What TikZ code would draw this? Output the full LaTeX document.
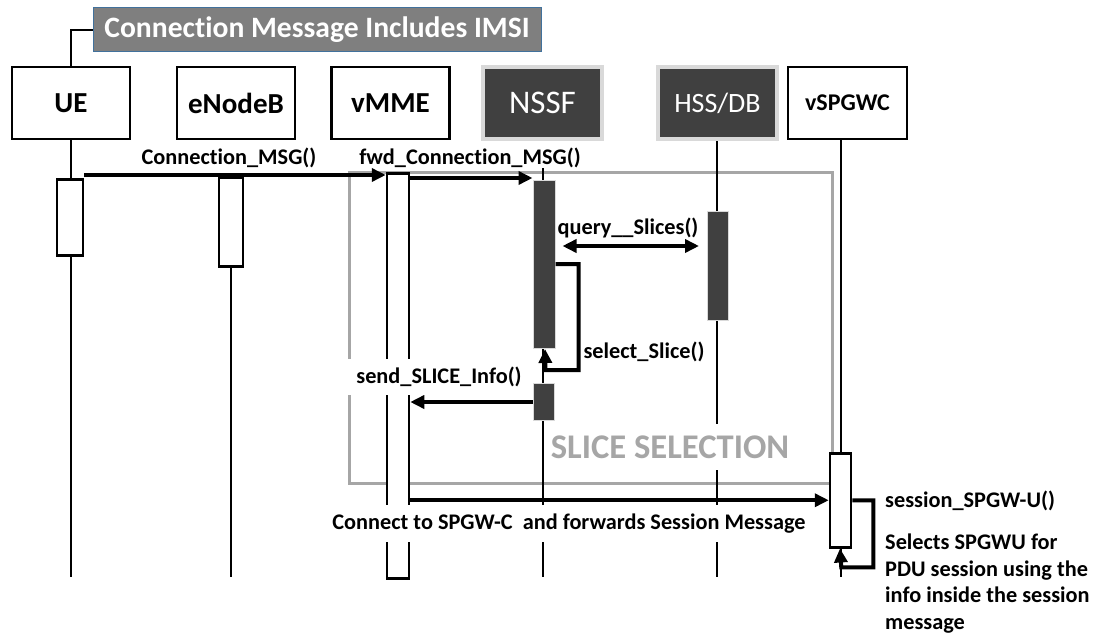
\documentclass[tikz,border=0pt]{standalone}
\usepackage{fontspec}
\setmainfont{Carlito}[Ligatures={NoCommon,NoRare}]
\usetikzlibrary{arrows.meta,backgrounds}
\definecolor{boxdark}{HTML}{404040}
\definecolor{boxrim}{HTML}{D9D9D9}
\definecolor{framegrey}{HTML}{A6A6A6}
\definecolor{titlefill}{HTML}{7F7F7F}
\definecolor{titlerim}{HTML}{41719C}
\begin{document}
\begin{tikzpicture}[x=1pt,y=-1pt,
  hdr/.style={draw=black, line width=2.5pt, fill=white, inner sep=0pt, minimum height=72pt,
    font=\bfseries\fontsize{29}{34}\selectfont},
  hdrdark/.style={draw=boxrim, line width=4pt, fill=boxdark, text=white, inner sep=0pt, minimum height=72pt},
  life/.style={line width=1.8pt},
  actw/.style={draw=black, line width=2.5pt, fill=white, inner sep=0pt, anchor=north},
  actd/.style={draw=boxrim, line width=1pt, fill=boxdark, inner sep=0pt, anchor=north},
  msg/.style={line width=4pt, -{Triangle[length=14pt,width=13pt]}},
  lbl/.style={font=\bfseries\fontsize{22.3}{26.5}\selectfont, inner sep=1pt},
]
\useasboundingbox (0,0) rectangle (1093,634);

% title banner and its tie to the UE box
\node[fill=titlefill, draw=titlerim, line width=1pt, text=white, minimum width=448pt,
      minimum height=44pt, inner sep=0pt, font=\bfseries\fontsize{29.6}{34}\selectfont]
      (title) at (317,30) {Connection Message Includes IMSI};

% participants
\node[hdr, minimum width=118pt] (ue) at (71,103) {UE};
\node[hdr, minimum width=118pt] (enb) at (236,103) {eNodeB};
\node[hdr, minimum width=118pt] (mme) at (390.5,103) {vMME};
\node[hdrdark, minimum width=119pt, font=\fontsize{33}{38}\selectfont] (nssf) at (542.5,103) {NSSF};
\node[hdrdark, minimum width=119pt, font=\fontsize{28}{32}\selectfont] (hss) at (717.5,103) {HSS/DB};
\node[hdr, minimum width=119pt, font=\bfseries\fontsize{24}{28}\selectfont] (spgw) at (847.5,103) {vSPGWC};

\draw[line width=1.5pt] (title.west) -| (ue.north);

% lifeline end points
\coordinate (ueEnd) at (71,577);
\coordinate (enbEnd) at (231,577);
\coordinate (nssfTop) at (543,168);
\coordinate (nssfEnd) at (543,577);
\coordinate (hssEnd) at (717,577);
\coordinate (spgwEnd) at (841,577);

% activation bars
\node[actw, minimum width=26pt, minimum height=76pt] (ueA) at (70,178) {};
\node[actw, minimum width=24pt, minimum height=89pt] (enbA) at (231,176) {};
\node[actw, minimum width=22pt, minimum height=405pt] (mmeA) at (398,172) {};
\node[actd, minimum width=22pt, minimum height=168pt] (nssfA) at (544,180) {};
\node[actd, minimum width=21pt, minimum height=37pt] (nssfB) at (544,383) {};
\node[actd, minimum width=21pt, minimum height=109pt] (hssA) at (718,211) {};
\node[actw, minimum width=21pt, minimum height=94pt] (spgwA) at (840.5,452) {};

% slice-selection frame and lifelines behind the bars
\begin{scope}[on background layer]
  \node[draw=framegrey, line width=3pt, minimum width=483pt, minimum height=311pt,
        anchor=north west, inner sep=0pt] (sel) at (348,171) {};
  \draw[life] (ue.south) -- (ueEnd);
  \draw[life] (enbA.south) -- (enbEnd);
  \draw[life] (nssfTop) -- (nssfEnd);
  \draw[life] (hss.south -| hssEnd) -- (hssEnd);
  \draw[life] (spgw.south -| spgwEnd) -- (spgwEnd);
\end{scope}

% messages
\draw[msg] ([yshift=3pt]ueA.north east) -- ([yshift=3pt]ueA.north east -| mmeA.west);
\draw[msg] ([yshift=2pt]mmeA.east |- nssfA.north) -- ([yshift=2pt]nssfA.north west);
\draw[line width=4pt, {Triangle[length=14pt,width=13pt]}-{Triangle[length=14pt,width=13pt]}]
  ([xshift=7pt,yshift=-66pt]nssfA.north east) -- ([xshift=-8pt,yshift=-66pt]nssfA.north east -| hssA.west);
\draw[msg] ([yshift=-84pt]nssfA.north east) -- ++(23,0) -- ++(0,106) -- ++(-33,0) -- ([xshift=1pt]nssfA.south);
\draw[msg] ([yshift=-19pt]nssfB.north west) -- ([yshift=-19pt]nssfB.north west -| mmeA.east);
\draw[msg] (mmeA.east |- spgwA.west) -- (spgwA.west);
\draw[msg] (spgwA.east) -- ++(21,0) -- ++(0,67) -- ++(-32,0) -- ([xshift=-0.5pt]spgwA.south);

% labels
\node[lbl] (l1) at (229,158) {Connection\_MSG()};
\node[lbl] (l2) at (470,158) {fwd\_Connection\_MSG()};
\node[lbl] (l3) at (628,228) {query\_\_Slices()};
\node[lbl] (l4) at (644,352) {select\_Slice()};
\node[lbl, fill=white, minimum width=183pt, minimum height=36pt] (l5) at (439,377) {send\_SLICE\_Info()};
\node[lbl, fill=white, text=framegrey, font=\bfseries\fontsize{34.6}{40}\selectfont,
      minimum width=250pt, minimum height=46pt] (l6) at (670,447) {SLICE SELECTION};
\node[lbl, fill=white, minimum width=484pt, minimum height=37pt] (l7) at (569,523.5)
  {Connect to SPGW-C\ \ and forwards Session Message};
\node[lbl, anchor=west] (l8) at (884,501) {session\_SPGW-U()};
\node[lbl, anchor=north west, align=left] (l9) at (884,533)
  {Selects SPGWU for\\PDU session using the\\info inside the session\\message};
\end{tikzpicture}
\end{document}
